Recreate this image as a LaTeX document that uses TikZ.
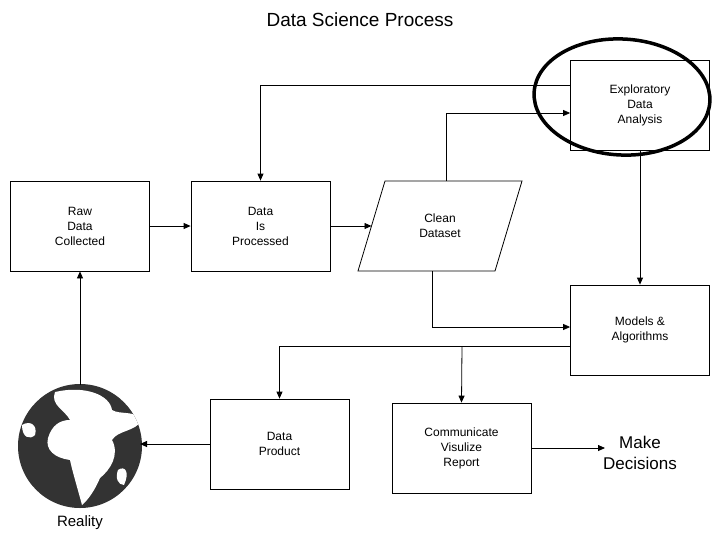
\documentclass[tikz,border=0pt]{standalone}
\usepackage{fontspec}
\setmainfont{Liberation Sans}
\usetikzlibrary{shapes.geometric,arrows.meta}
\begin{document}
\begin{tikzpicture}[x=1pt,y=-1pt,
 box/.style={draw,line width=0.8pt,minimum width=139pt,minimum height=90pt,align=center,font=\fontsize{12}{15}\selectfont},
 arr/.style={-{Triangle[length=7pt,width=6pt]},line width=0.8pt}]
\useasboundingbox (0,0) rectangle (720,544);
\node[font=\fontsize{19}{22}\selectfont] (title) at (360,20) {Data Science Process};
\node[box] (raw) at (80,226) {Raw\\Data\\Collected};
\node[box] (proc) at (260.5,226) {Data\\Is\\Processed};
\node[align=center,font=\fontsize{12}{15}\selectfont] (clean) at (440,226) {Clean\\Dataset};
\coordinate (cl) at (371.5,226);
\draw[line width=0.8pt] (385,181) -- (522,181) -- (495,271) -- (358,271) -- cycle;
\node[box] (eda) at (640,105) {Exploratory\\Data\\Analysis};
\node[box] (mod) at (640,330) {Models \&\\Algorithms};
\node[box] (prod) at (279.5,444) {Data\\Product};
\node[box] (comm) at (461.5,448) {Communicate\\Visulize\\Report};
\node[font=\fontsize{17}{21}\selectfont,align=center] (dec) at (640,453) {Make\\Decisions};
\node[draw,line width=3.5pt,ellipse,minimum width=176pt,minimum height=116pt,rotate=-3] (loop) at (622,97) {};
% globe
\node[circle,fill=black!80,minimum size=124pt,inner sep=0pt] (globe) at (80,446) {};
\begin{scope}
\clip (80,446) circle (62);
\fill[white] (55,392) .. controls (85,385) and (110,395) .. (112,410) .. controls (120,415) and (135,410) .. (142,420) .. controls (135,432) and (118,430) .. (112,440) .. controls (120,455) and (110,470) .. (100,478) .. controls (95,490) and (88,500) .. (82,505) .. controls (78,490) and (72,470) .. (70,460) .. controls (55,458) and (45,450) .. (48,438) .. controls (52,425) and (60,420) .. (70,420) .. controls (65,410) and (50,405) .. (55,392) -- cycle;
\fill[white] (22,425) .. controls (30,420) and (38,425) .. (35,435) .. controls (30,440) and (22,438) .. (22,425) -- cycle;
\fill[white] (118,470) .. controls (125,465) and (130,472) .. (124,485) .. controls (118,485) and (115,478) .. (118,470) -- cycle;
\end{scope}
\node[font=\fontsize{15}{18}\selectfont] (real) at (80,523) {Reality};
% connectors
\draw[arr] (raw) -- (proc);
\draw[arr] (proc.east) -- (cl);
\draw[arr] (eda.west|-0,85) -| (proc.north);
\draw[arr] (446,181) |- (eda.west|-0,113);
\draw[arr] (eda.south) -- (mod.north);
\draw[arr] (432,271) |- (mod.west|-0,327);
\draw[arr] (mod.west|-0,346) -| (prod.north);
\draw[arr] (462,346) -- (comm.north);
\draw[arr] (comm.east) -- (605,448);
\draw[arr] (prod.west) -- (140,444);
\draw[arr] (80,385) -- (raw.south);
\end{tikzpicture}
\end{document}
